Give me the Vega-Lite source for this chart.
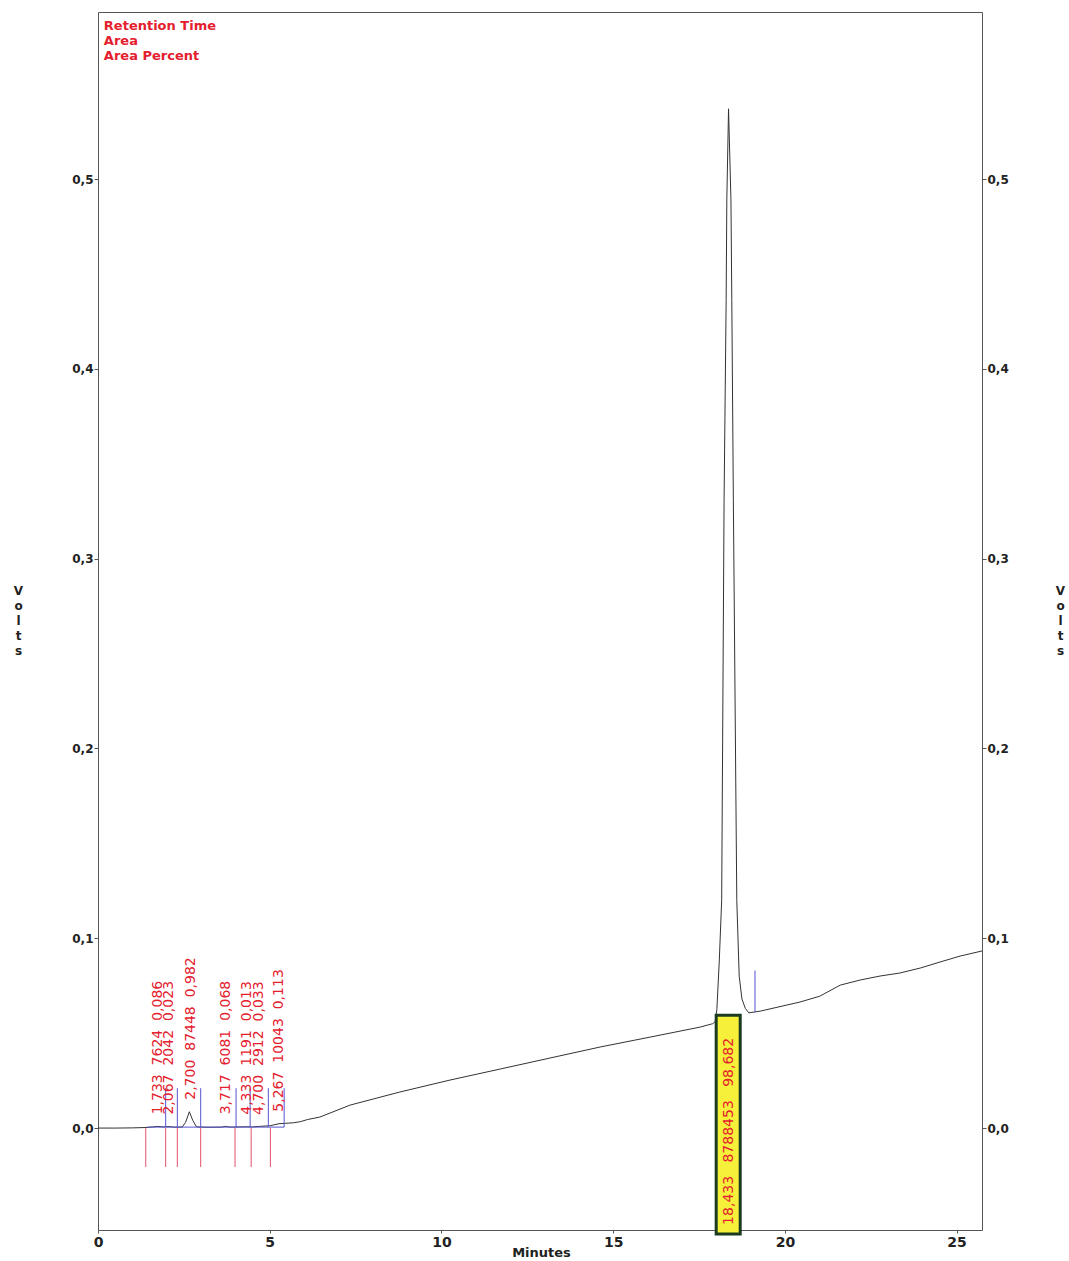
{
  "$schema": "https://vega.github.io/schema/vega-lite/v6.json",
  "width": 884,
  "height": 1218,
  "autosize": {"type": "none"},
  "padding": {"left": 98, "right": 87, "top": 12, "bottom": 31},
  "background": "white",
  "config": {
    "view": {"stroke": "#555555", "strokeWidth": 1},
    "font": "DejaVu Sans",
    "axis": {
      "labelFont": "DejaVu Sans", "labelFontWeight": "bold", "labelFontSize": 12, "labelColor": "#222222",
      "tickColor": "#555555", "domain": false, "grid": false, "labelFlush": false,
      "titleFont": "DejaVu Sans", "titleFontWeight": "bold", "titleFontSize": 12, "titleColor": "#222222"
    }
  },
  "datasets": {
    "trace": [
      {"t": 0, "v": 0}, {"t": 0.5, "v": 0}, {"t": 1.0, "v": 0.0001}, {"t": 1.4, "v": 0.0003},
      {"t": 1.6, "v": 0.0006}, {"t": 1.73, "v": 0.0009}, {"t": 1.9, "v": 0.0006}, {"t": 2.07, "v": 0.0008},
      {"t": 2.2, "v": 0.0005}, {"t": 2.45, "v": 0.0005}, {"t": 2.55, "v": 0.003}, {"t": 2.66, "v": 0.0086},
      {"t": 2.76, "v": 0.004}, {"t": 2.87, "v": 0.0006}, {"t": 3.2, "v": 0.0004}, {"t": 3.6, "v": 0.0005},
      {"t": 3.72, "v": 0.0009}, {"t": 3.85, "v": 0.0005}, {"t": 4.33, "v": 0.0007}, {"t": 4.5, "v": 0.0006},
      {"t": 4.7, "v": 0.0009}, {"t": 5.0, "v": 0.0012}, {"t": 5.15, "v": 0.0018}, {"t": 5.27, "v": 0.0023},
      {"t": 5.45, "v": 0.0025}, {"t": 5.7, "v": 0.0028}, {"t": 5.9, "v": 0.0034}, {"t": 6.1, "v": 0.0045},
      {"t": 6.46, "v": 0.0058}, {"t": 7.34, "v": 0.0121}, {"t": 8.79, "v": 0.019}, {"t": 10.25, "v": 0.0253},
      {"t": 11.71, "v": 0.0311}, {"t": 13.16, "v": 0.0369}, {"t": 14.62, "v": 0.0427}, {"t": 16.07, "v": 0.0479},
      {"t": 17.53, "v": 0.0532}, {"t": 17.9, "v": 0.055}, {"t": 17.97, "v": 0.056}, {"t": 18.02, "v": 0.0625},
      {"t": 18.09, "v": 0.088}, {"t": 18.16, "v": 0.12}, {"t": 18.23, "v": 0.331}, {"t": 18.29, "v": 0.436},
      {"t": 18.31, "v": 0.489}, {"t": 18.36, "v": 0.537}, {"t": 18.43, "v": 0.489}, {"t": 18.455, "v": 0.436},
      {"t": 18.5, "v": 0.331}, {"t": 18.6, "v": 0.12}, {"t": 18.67, "v": 0.08}, {"t": 18.75, "v": 0.068},
      {"t": 18.85, "v": 0.063}, {"t": 18.95, "v": 0.0607}, {"t": 19.28, "v": 0.0616}, {"t": 20.44, "v": 0.0664},
      {"t": 21.02, "v": 0.0695}, {"t": 21.61, "v": 0.0753}, {"t": 22.19, "v": 0.078}, {"t": 22.77, "v": 0.0801},
      {"t": 23.35, "v": 0.0817}, {"t": 23.94, "v": 0.0843}, {"t": 24.52, "v": 0.0875}, {"t": 25.1, "v": 0.0906},
      {"t": 25.74, "v": 0.0933}
    ],
    "events": [{"t": 1.39}, {"t": 1.97}, {"t": 2.31}, {"t": 2.99}, {"t": 3.99}, {"t": 4.46}, {"t": 5.02}],
    "ticks": [{"t": 1.97}, {"t": 2.31}, {"t": 2.99}, {"t": 4.02}, {"t": 4.43}, {"t": 4.96}, {"t": 5.42}],
    "peaks": [
      {"rt": 1.733, "apex": 0.0009, "label": "1,733\u00a0\u00a07624\u00a0\u00a00,086"},
      {"rt": 2.067, "apex": 0.0008, "label": "2,067\u00a0\u00a02042\u00a0\u00a00,023"},
      {"rt": 2.7, "apex": 0.0086, "label": "2,700\u00a0\u00a087448\u00a0\u00a00,982"},
      {"rt": 3.717, "apex": 0.0009, "label": "3,717\u00a0\u00a06081\u00a0\u00a00,068"},
      {"rt": 4.333, "apex": 0.0007, "label": "4,333\u00a0\u00a01191\u00a0\u00a00,013"},
      {"rt": 4.7, "apex": 0.0006, "label": "4,700\u00a0\u00a02912\u00a0\u00a00,033"},
      {"rt": 5.267, "apex": 0.0023, "label": "5,267\u00a0\u00a010043\u00a0\u00a00,113"}
    ],
    "main": [{"t": 18.36, "label": "18,433\u00a0\u00a0\u00a08788453\u00a0\u00a0\u00a098,682"}],
    "legend": [{"label": "Retention Time\nArea\nArea Percent"}]
  },
  "layer": [
    {
      "data": {"name": "trace"},
      "mark": {"type": "line", "color": "#333333", "strokeWidth": 1, "interpolate": "linear"},
      "encoding": {
        "x": {"field": "t", "type": "quantitative", "scale": {"domain": [0, 25.74], "nice": false, "zero": false},
          "axis": {"values": [0, 5, 10, 15, 20, 25], "tickSize": 3, "labelPadding": 2, "labelFontSize": 14,
            "title": "Minutes", "titleX": 443, "titleY": 22, "titleBaseline": "middle", "titleAlign": "center", "titleFontSize": 13}},
        "y": {"field": "v", "type": "quantitative", "scale": {"domain": [-0.0537, 0.588], "nice": false, "zero": false},
          "axis": {"orient": "left", "values": [0, 0.1, 0.2, 0.3, 0.4, 0.5],
            "labelExpr": "replace(format(datum.value,'.1f'),'.',',')", "tickSize": 4, "labelPadding": 1,
            "title": ["V", "o", "l", "t", "s"], "titleAngle": 0, "titleX": -80, "titleY": 573,
            "titleBaseline": "top", "titleAlign": "center", "titleLineHeight": 15}}
      }
    },
    {
      "data": {"name": "ticks"},
      "mark": {"type": "rule", "color": "#5555d0", "strokeWidth": 1},
      "encoding": {
        "x": {"field": "t", "type": "quantitative", "scale": {"domain": [0, 25.74], "nice": false, "zero": false}, "title": "Minutes"},
        "y": {"datum": 0.0005, "type": "quantitative", "scale": {"domain": [-0.0537, 0.588], "nice": false, "zero": false},
          "axis": {"orient": "right", "values": [0, 0.1, 0.2, 0.3, 0.4, 0.5],
            "labelExpr": "replace(format(datum.value,'.1f'),'.',',')", "tickSize": 4, "labelPadding": 1,
            "title": ["V", "o", "l", "t", "s"], "titleAngle": 0, "titleX": 78, "titleY": 573,
            "titleBaseline": "top", "titleAlign": "center", "titleLineHeight": 15}},
        "y2": {"datum": 0.021}
      }
    },
    {
      "data": {"values": [{"a": 1}]},
      "mark": {"type": "rule", "color": "#5555d0", "strokeWidth": 1},
      "encoding": {
        "x": {"datum": 1.43, "type": "quantitative", "scale": {"domain": [0, 25.74], "nice": false, "zero": false}, "title": "Minutes"},
        "x2": {"datum": 5.42},
        "y": {"datum": 0.0005, "type": "quantitative", "scale": {"domain": [-0.0537, 0.588], "nice": false, "zero": false}, "axis": null}
      }
    },
    {
      "data": {"values": [{"a": 1}]},
      "mark": {"type": "rule", "color": "#5555d0", "strokeWidth": 1},
      "encoding": {
        "x": {"datum": 19.13, "type": "quantitative", "scale": {"domain": [0, 25.74], "nice": false, "zero": false}, "title": "Minutes"},
        "y": {"datum": 0.061, "type": "quantitative", "scale": {"domain": [-0.0537, 0.588], "nice": false, "zero": false}, "axis": null},
        "y2": {"datum": 0.083}
      }
    },
    {
      "data": {"name": "events"},
      "mark": {"type": "rule", "color": "#e8506a", "strokeWidth": 1},
      "encoding": {
        "x": {"field": "t", "type": "quantitative", "scale": {"domain": [0, 25.74], "nice": false, "zero": false}, "title": "Minutes"},
        "y": {"datum": 0, "type": "quantitative", "scale": {"domain": [-0.0537, 0.588], "nice": false, "zero": false}, "axis": null},
        "y2": {"datum": -0.0205}
      }
    },
    {
      "data": {"values": [{"a": 1}]},
      "mark": {"type": "rect", "fill": "#f6f03a", "stroke": "#1b3b20", "strokeWidth": 3},
      "encoding": {
        "x": {"datum": 18.0, "type": "quantitative", "scale": {"domain": [0, 25.74], "nice": false, "zero": false}, "title": "Minutes"},
        "x2": {"datum": 18.7},
        "y": {"datum": 0.0595, "type": "quantitative", "scale": {"domain": [-0.0537, 0.588], "nice": false, "zero": false}, "axis": null},
        "y2": {"datum": -0.0558}
      }
    },
    {
      "data": {"name": "peaks"},
      "mark": {"type": "text", "angle": 270, "align": "left", "baseline": "middle", "dx": 12, "font": "DejaVu Sans", "fontSize": 14, "color": "#e4202e"},
      "encoding": {
        "x": {"field": "rt", "type": "quantitative", "scale": {"domain": [0, 25.74], "nice": false, "zero": false}, "title": "Minutes"},
        "y": {"field": "apex", "type": "quantitative", "scale": {"domain": [-0.0537, 0.588], "nice": false, "zero": false}, "axis": null},
        "text": {"field": "label"}
      }
    },
    {
      "data": {"name": "main"},
      "mark": {"type": "text", "angle": 270, "align": "left", "baseline": "middle", "font": "DejaVu Sans", "fontSize": 14, "color": "#e4202e"},
      "encoding": {
        "x": {"field": "t", "type": "quantitative", "scale": {"domain": [0, 25.74], "nice": false, "zero": false}, "title": "Minutes"},
        "y": {"datum": -0.051, "type": "quantitative", "scale": {"domain": [-0.0537, 0.588], "nice": false, "zero": false}, "axis": null},
        "text": {"field": "label"}
      }
    },
    {
      "data": {"name": "legend"},
      "mark": {"type": "text", "align": "left", "baseline": "top", "lineBreak": "\n", "lineHeight": 15, "font": "DejaVu Sans", "fontWeight": "bold", "fontSize": 13, "color": "#e4202e"},
      "encoding": {
        "x": {"datum": 0.17, "type": "quantitative", "scale": {"domain": [0, 25.74], "nice": false, "zero": false}, "title": "Minutes"},
        "y": {"datum": 0.5838, "type": "quantitative", "scale": {"domain": [-0.0537, 0.588], "nice": false, "zero": false}, "axis": null},
        "text": {"field": "label"}
      }
    }
  ],
  "resolve": {"axis": {"y": "independent"}}
}
